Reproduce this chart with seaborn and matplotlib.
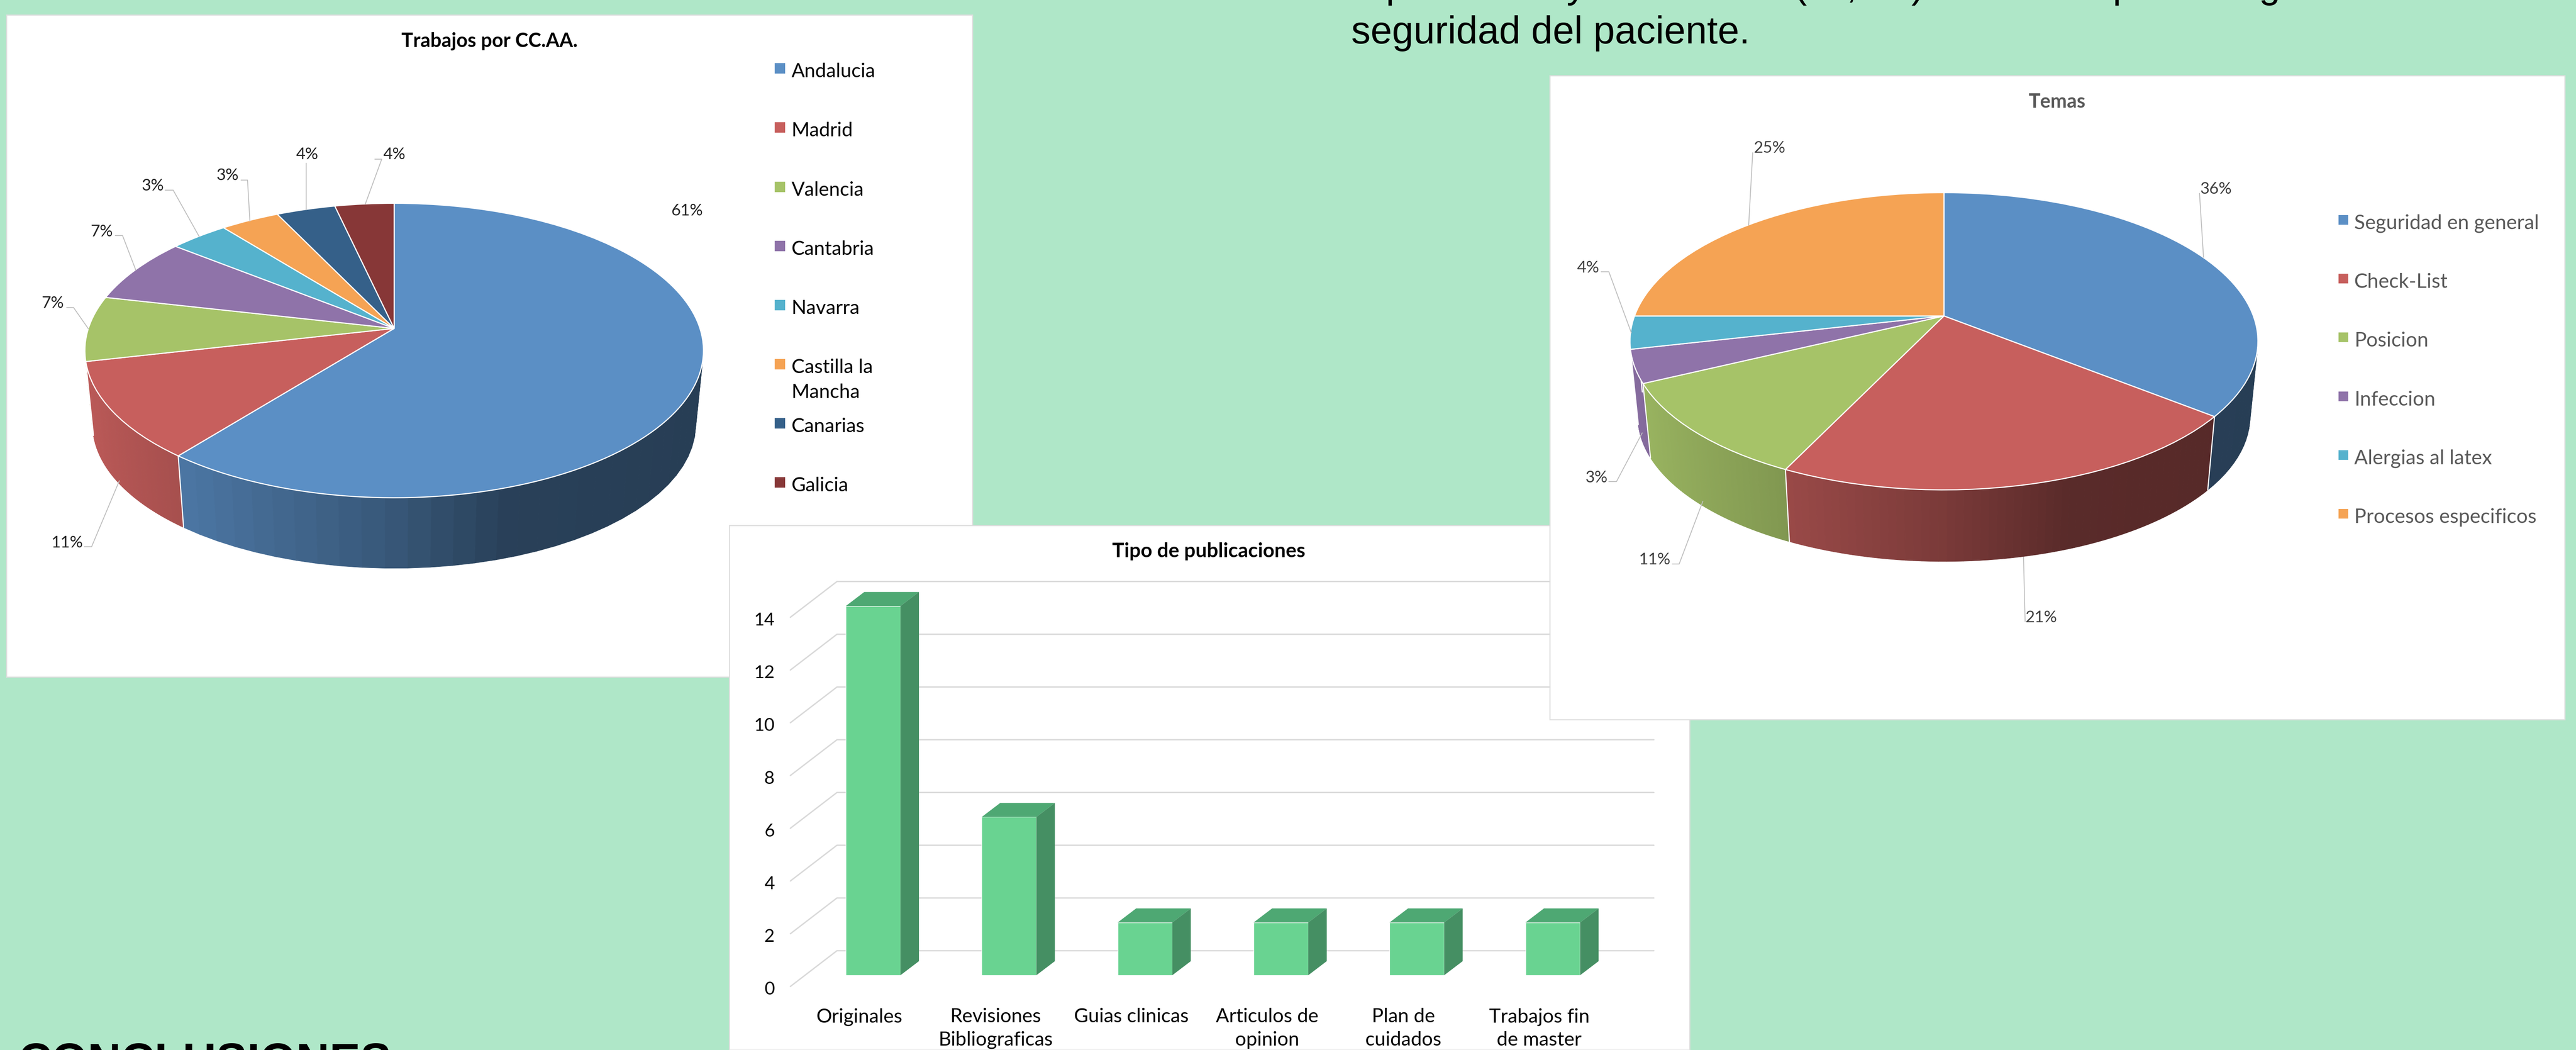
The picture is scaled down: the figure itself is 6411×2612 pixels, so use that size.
""" Poster fragment: two 3D style pies and a 3D style bar chart on a green page
"""
import numpy as np
import pandas as pd
import matplotlib.pyplot as plt
import seaborn as sns
from matplotlib.collections import PolyCollection
from matplotlib.patches import Rectangle
from matplotlib.transforms import Transform

W, H = 6411, 2612

# data
ccaa_names = ['Andalucia', 'Madrid', 'Valencia', 'Cantabria', 'Navarra',
              'Castilla la\nMancha', 'Canarias', 'Galicia']
ccaa_counts = [17, 3, 2, 2, 1, 1, 1, 1]
ccaa_pct = ['61%', '11%', '7%', '7%', '3%', '3%', '4%', '4%']

temas_names = ['Seguridad en general', 'Check-List', 'Posicion', 'Infeccion',
               'Alergias al latex', 'Procesos especificos']
temas_counts = [10, 6, 3, 1, 1, 7]
temas_pct = ['36%', '21%', '11%', '3%', '4%', '25%']

pub_names = ['Originales', 'Revisiones\nBibliograficas', 'Guias clinicas',
             'Articulos de\nopinion', 'Plan de\ncuidados', 'Trabajos fin\nde master']
pub_counts = [14, 6, 2, 2, 2, 2]
pub_ticks = [0, 2, 4, 6, 8, 10, 12, 14]

pie_colors = ['#5B8FC5', '#C75F5D', '#A6C368', '#8F73A9', '#55B2CD', '#F5A354', '#356089', '#873737']
temas_colors = ['#5B8FC5', '#C75F5D', '#A6C368', '#8F73A9', '#55B2CD', '#F5A354']

# layout, in pixels of the page
ccaa_label_xy = [(1710, 522), (167, 1348), (132, 753), (254, 574), (380, 461), (566, 435), (764, 383), (981, 383)]
ccaa_leaders = [None,
                [(210, 1360), (228, 1360), (297, 1196)],
                [(166, 765), (183, 765), (220, 818)],
                [(287, 586), (305, 586), (338, 672)],
                [(411, 473), (431, 473), (496, 589)],
                [(600, 448), (616, 448), (622, 551)],
                [(762, 406), (762, 522)],
                [(933, 396), (950, 396), (909, 508)]]
temas_label_xy = [(5515, 470), (5080, 1536), (4118, 1393), (3973, 1189), (3952, 666), (4404, 369)]
temas_leaders = [[(5474, 481), (5484, 640)],
                 [(5040, 1546), (5036, 1386)],
                 [(4162, 1403), (4179, 1403), (4238, 1247)],
                 [(4004, 1198), (4023, 1198), (4087, 1077)],
                 [(3985, 676), (4004, 676), (4060, 828)],
                 [(4362, 380), (4352, 560)]]

PAGE = '#AFE7C8'
BORDER = '#DEDEDE'
PX = 0.72  # points per pixel at dpi 100


class PieProjection(Transform):
    """Unit circle to the tilted ellipse of a perspective pie"""
    input_dims = 2
    output_dims = 2

    def __init__(self, cx, y0, a, b, k):
        super().__init__()
        self.cx, self.y0, self.a, self.b, self.k = cx, y0, a, b, k

    def transform_non_affine(self, values):
        w = 1 + self.k * values[:, 1]
        return np.c_[self.cx + self.a * values[:, 0] / w, self.y0 - self.b * values[:, 1] / w]


def draw_pie(ax, counts, colors, proj, depth, shrink):
    fractions = np.cumsum([0] + list(counts)) / sum(counts)
    quads, faces, keys = [], [], []
    edges = []
    for i, color in enumerate(colors):
        t = 2 * np.pi * np.linspace(fractions[i], fractions[i + 1], 60)
        top = proj.transform_non_affine(np.c_[np.sin(t), np.cos(t)])
        low = np.c_[proj.cx + shrink * (top[:, 0] - proj.cx),
                    proj.y0 + depth + shrink * (top[:, 1] - proj.y0)]
        rgb = np.array(plt.matplotlib.colors.to_rgb(color))
        for j in range(len(t) - 1):
            xn = np.sin(t[j])
            shade = np.interp(xn, [-1, -0.5, 0, 0.35, 1], [0.95, 0.8, 0.62, 0.45, 0.43])
            quads.append([top[j], top[j + 1], low[j + 1], low[j]])
            faces.append(tuple(rgb * shade))
            keys.append(np.cos(t[j]))
        edges.append((top[0], low[0], np.cos(t[0])))
    order = np.argsort(keys)[::-1]
    walls = PolyCollection([quads[n] for n in order], facecolors=[faces[n] for n in order],
                           edgecolors=[faces[n] for n in order], linewidths=0.8, zorder=2)
    ax.add_collection(walls)
    for a, b, v in edges:
        if v < 0.3:
            ax.plot([a[0], b[0]], [a[1], b[1]], color='white', lw=2, zorder=2.5)
    wedges, _ = ax.pie(counts, colors=colors, startangle=90, counterclock=False,
                       wedgeprops=dict(edgecolor='white', linewidth=2))
    for wedge in wedges:
        wedge.set_transform(proj + ax.transData)
        wedge.set_clip_on(False)
        wedge.set_zorder(3)
    ax.set_aspect('auto')
    ax.set_xlim(0, W)
    ax.set_ylim(H, 0)


def page_axes(zorder):
    ax = fig.add_axes([0, 0, 1, 1], zorder=zorder)
    ax.patch.set_alpha(0)
    ax.set_xlim(0, W)
    ax.set_ylim(H, 0)
    ax.axis('off')
    return ax


sns.set_theme(style='white')
plt.rcParams['font.family'] = ['Lato', 'DejaVu Sans']

fig = plt.figure(figsize=(W / 100, H / 100), dpi=100, facecolor=PAGE)

# left pie panel
ax_l = page_axes(0)
ax_l.add_patch(Rectangle((16, 37), 2404, 1647, fc='white', ec=BORDER, lw=2))
draw_pie(ax_l, ccaa_counts, pie_colors, PieProjection(981, 817, 761, 358, 0.15), 186, 0.975)
ax_l.axis('off')
ax_l.text(1218, 102, 'Trabajos por CC.AA.', ha='center', va='center', fontsize=35, fontweight='bold', color='black')
legend_y = [175, 322, 470, 617, 764, 911, 1058, 1205]
for name, color, y in zip(ccaa_names, pie_colors, legend_y):
    ax_l.add_patch(Rectangle((1928, y - 18), 26, 26, fc=color, ec='none'))
    ax_l.text(1970, y - 19, name, ha='left', va='top', fontsize=35, color='black', linespacing=1.5)
for pct, xy, line in zip(ccaa_pct, ccaa_label_xy, ccaa_leaders):
    ax_l.text(xy[0], xy[1] + 2, pct, ha='center', va='center', fontsize=29, color='#262626')
    if line:
        ax_l.plot(*zip(*line), color='#BFBFBF', lw=1.6, zorder=4)

# top text of the page
seg_x = [3475, 3923, 4481, 4608, 4772, 5284, 5649]
for ch, x in zip('py(,)pg', seg_x):
    ax_l.text(x, -6, ch, ha='center', va='baseline', fontsize=69, family='Liberation Sans', color='black')
ax_l.text(3363, 108, 'seguridad del paciente.', ha='left', va='baseline', fontsize=69,
          family='Liberation Sans', color='black')
ax_l.text(45, 2676, 'CONCLUSIONES', ha='left', va='baseline', fontsize=83, fontweight='bold',
          family='Liberation Sans', color='black')

# bar panel, the axes fills the white card
PX_X, PX_Y = 338.3, 65.6
ORIGIN_X, ORIGIN_Y = 2173, 2426
left, right, top, bottom = 1815, 4205, 1307, 2612
ax_b = fig.add_axes([left / W, 1 - bottom / H, (right - left) / W, (bottom - top) / H], zorder=1, facecolor='white')
df = pd.DataFrame({'tipo': pub_names, 'n': pub_counts})
sns.barplot(data=df, x='tipo', y='n', color='#69D391', saturation=1, width=0.402, ax=ax_b, zorder=3)
ax_b.set_xlim((left - ORIGIN_X) / PX_X, (right - ORIGIN_X) / PX_X)
ax_b.set_ylim((ORIGIN_Y - bottom) / PX_Y, (ORIGIN_Y - top) / PX_Y)
ax_b.set_xlabel('')
ax_b.set_ylabel('')
back_y = 61 / PX_Y
front_y = -28 / PX_Y
x_back = (2083 - ORIGIN_X) / PX_X
x_front = (1967 - ORIGIN_X) / PX_X
x_end = (4116 - ORIGIN_X) / PX_X
for v in pub_ticks:
    ax_b.plot([x_front, x_back, x_end], [v + front_y, v + back_y, v + back_y], color='#D9D9D9', lw=2.4, zorder=1)
# roof and side of every bar come from the bar rectangles
dx, dy = 46 / PX_X, 35 / PX_Y
for bar in ax_b.patches:
    x0, w, h = bar.get_x(), bar.get_width(), bar.get_height()
    ax_b.fill([x0, x0 + dx, x0 + w + dx, x0 + w], [h, h + dy, h + dy, h], color='#4EA873', lw=0, zorder=3)
    ax_b.fill([x0 + w, x0 + w + dx, x0 + w + dx, x0 + w], [0, dy, h + dy, h], color='#458F63', lw=0, zorder=3)
ax_b.set_xticks(np.arange(len(pub_names)) - 0.1, labels=pub_names)
ax_b.set_yticks(np.array(pub_ticks) + front_y - 4 / PX_Y, labels=[str(v) for v in pub_ticks])
ax_b.tick_params(axis='x', length=0, pad=-105 * PX, labelsize=35, labelcolor='black')
ax_b.tick_params(axis='y', length=0, pad=-113 * PX, labelsize=32, labelcolor='black')
for lab in ax_b.get_xticklabels():
    lab.set_linespacing(1.38)
for side in ax_b.spines.values():
    side.set_color(BORDER)
    side.set_linewidth(2)
fig.text(3008 / W, 1 - 1372 / H, 'Tipo de publicaciones', ha='center', va='center', fontsize=36,
         fontweight='bold', color='black', zorder=1.5)

# right pie panel lies over the bars panel
ax_r = page_axes(2)
ax_r.add_patch(Rectangle((3857, 188), 2526, 1602, fc='white', ec=BORDER, lw=2))
draw_pie(ax_r, temas_counts, temas_colors, PieProjection(4838, 786, 770, 359, 0.17), 189, 0.975)
ax_r.axis('off')
ax_r.text(5119, 254, 'Temas', ha='center', va='center', fontsize=35, fontweight='bold', color='#595959')
for i, (name, color) in enumerate(zip(temas_names, temas_colors)):
    y = 556 + 146.2 * i
    ax_r.add_patch(Rectangle((5820, y - 21), 24, 24, fc=color, ec='none'))
    ax_r.text(5859, y, name, ha='left', va='center', fontsize=36, color='#595959')
for pct, xy, line in zip(temas_pct, temas_label_xy, temas_leaders):
    ax_r.text(xy[0], xy[1], pct, ha='center', va='center', fontsize=29, color='#404040')
    ax_r.plot(*zip(*line), color='#BFBFBF', lw=1.6, zorder=4)

fig.savefig('out.png', dpi=100, facecolor=PAGE)
